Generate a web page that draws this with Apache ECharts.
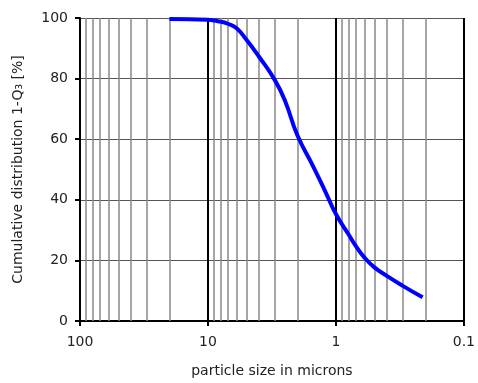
<!DOCTYPE html>
<html><head><meta charset="utf-8">
<script src="https://cdn.jsdelivr.net/npm/echarts@6/dist/echarts.min.js"></script>
<style>html,body{margin:0;padding:0;background:#fff}#c{width:478px;height:383px}</style>
</head><body><div id="c"></div>
<script>
const sizes = [20, 10, 8, 7, 6, 5, 4, 3, 2.5, 2, 1.5, 1.2, 1, 0.8, 0.7, 0.6, 0.5, 0.4, 0.3, 0.21];
const values = [99.7, 99.4, 98.8, 98.1, 96.7, 92.8, 87.3, 79.5, 72.7, 61.3, 50.9, 42.4, 35.3, 28.7, 24.8, 21, 17.7, 14.9, 11.6, 7.8];
const minorLines = [];
[0.1, 1, 10].forEach(d => { for (let k = 2; k <= 9; k++) minorLines.push(+(d * k).toFixed(2)); });

const chart = echarts.init(document.getElementById('c'), null, {renderer: 'canvas'});
const font = 'DejaVu Sans, Verdana, sans-serif';
chart.setOption({
  animation: false,
  grid: {left: 80, right: 10, top: 18, bottom: 61, containLabel: false},
  xAxis: {
    type: 'log', logBase: 10, min: 0.1, max: 100, inverse: true,
    name: 'particle size in microns', nameLocation: 'middle', nameGap: 43,
    nameTextStyle: {fontFamily: font, fontSize: 14, color: '#222'},
    axisLine: {show: true, lineStyle: {color: '#000', width: 2}},
    axisTick: {show: true, length: 5, lineStyle: {color: '#000', width: 2}},
    axisLabel: {fontFamily: font, fontSize: 14, color: '#222', margin: 14,
      formatter: v => String(+v.toPrecision(3))},
    splitLine: {show: true, lineStyle: {color: '#000', width: 2}},
    minorTick: {show: false}
  },
  yAxis: {
    type: 'value', min: 0, max: 100, interval: 20,
    name: 'Cumulative distribution 1-Q\u2083 [%]', nameLocation: 'middle', nameGap: 55,
    nameTextStyle: {fontFamily: font, fontSize: 14, color: '#222'},
    axisLine: {show: true, lineStyle: {color: '#000', width: 2}},
    axisTick: {show: true, length: 5, lineStyle: {color: '#000', width: 2}},
    axisLabel: {fontFamily: font, fontSize: 14, color: '#222', margin: 12},
    splitLine: {show: true, lineStyle: {color: '#555', width: 1}}
  },
  series: [{
    type: 'line', smooth: 0.5, showSymbol: false,
    data: sizes.map((s, i) => [s, values[i]]),
    lineStyle: {color: '#0000ff', width: 4},
    itemStyle: {color: '#0000ff'},
    z: 5,
    markLine: {
      silent: true, symbol: ['none', 'none'], label: {show: false},
      lineStyle: {color: '#888', width: 1.5, type: 'solid'},
      z: 1,
      data: minorLines.map(v => ({xAxis: v}))
    }
  }]
});
</script></body></html>
